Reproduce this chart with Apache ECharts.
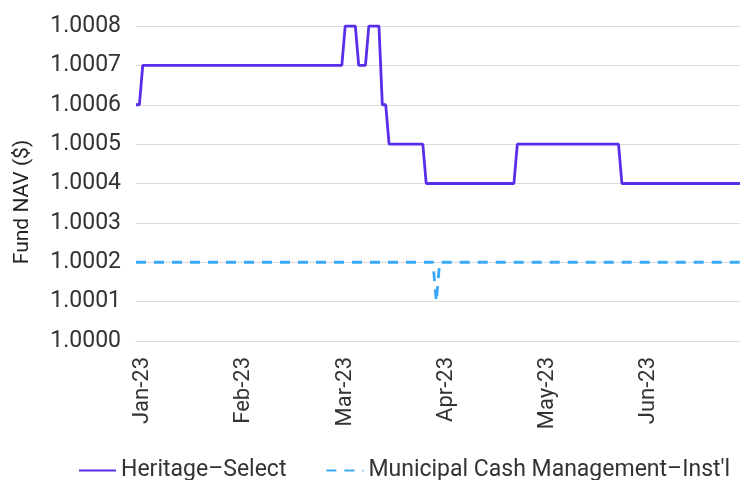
<!DOCTYPE html>
<html>
<head>
<meta charset="utf-8">
<script src="https://cdn.jsdelivr.net/npm/echarts@6/dist/echarts.min.js"></script>
<style>html,body{margin:0;padding:0;background:#fff}#c{width:740px;height:480px}</style>
</head>
<body>
<div id="c"></div>
<script>
// Categories: daily dates starting 30-Dec-2022
const startDate = new Date(Date.UTC(2022, 11, 30));
const categories = [];
for (let i = 0; i < 180; i++) {
  const d = new Date(startDate.getTime() + i * 86400000);
  categories.push(d.toISOString().slice(0, 10));
}
const tickLabels = ['Jan-23', 'Feb-23', 'Mar-23', 'Apr-23', 'May-23', 'Jun-23'];
const tickIndex = [2, 32, 62, 92, 122, 152];

const seriesNames = ['Heritage\u2013Select', 'Municipal Cash Management\u2013Inst\'l'];

const heritageSelect = [
  1.0006,1.0006,1.0007,1.0007,1.0007,1.0007,1.0007,1.0007,1.0007,1.0007,
  1.0007,1.0007,1.0007,1.0007,1.0007,1.0007,1.0007,1.0007,1.0007,1.0007,
  1.0007,1.0007,1.0007,1.0007,1.0007,1.0007,1.0007,1.0007,1.0007,1.0007,
  1.0007,1.0007,1.0007,1.0007,1.0007,1.0007,1.0007,1.0007,1.0007,1.0007,
  1.0007,1.0007,1.0007,1.0007,1.0007,1.0007,1.0007,1.0007,1.0007,1.0007,
  1.0007,1.0007,1.0007,1.0007,1.0007,1.0007,1.0007,1.0007,1.0007,1.0007,
  1.0007,1.0007,1.0008,1.0008,1.0008,1.0008,1.0007,1.0007,1.0007,1.0008,
  1.0008,1.0008,1.0008,1.0006,1.0006,1.0005,1.0005,1.0005,1.0005,1.0005,
  1.0005,1.0005,1.0005,1.0005,1.0005,1.0005,1.0004,1.0004,1.0004,1.0004,
  1.0004,1.0004,1.0004,1.0004,1.0004,1.0004,1.0004,1.0004,1.0004,1.0004,
  1.0004,1.0004,1.0004,1.0004,1.0004,1.0004,1.0004,1.0004,1.0004,1.0004,
  1.0004,1.0004,1.0004,1.0005,1.0005,1.0005,1.0005,1.0005,1.0005,1.0005,
  1.0005,1.0005,1.0005,1.0005,1.0005,1.0005,1.0005,1.0005,1.0005,1.0005,
  1.0005,1.0005,1.0005,1.0005,1.0005,1.0005,1.0005,1.0005,1.0005,1.0005,
  1.0005,1.0005,1.0005,1.0005,1.0004,1.0004,1.0004,1.0004,1.0004,1.0004,
  1.0004,1.0004,1.0004,1.0004,1.0004,1.0004,1.0004,1.0004,1.0004,1.0004,
  1.0004,1.0004,1.0004,1.0004,1.0004,1.0004,1.0004,1.0004,1.0004,1.0004,
  1.0004,1.0004,1.0004,1.0004,1.0004,1.0004,1.0004,1.0004,1.0004,1.0004
];

const municipalCash = [
  1.0002,1.0002,1.0002,1.0002,1.0002,1.0002,1.0002,1.0002,1.0002,1.0002,
  1.0002,1.0002,1.0002,1.0002,1.0002,1.0002,1.0002,1.0002,1.0002,1.0002,
  1.0002,1.0002,1.0002,1.0002,1.0002,1.0002,1.0002,1.0002,1.0002,1.0002,
  1.0002,1.0002,1.0002,1.0002,1.0002,1.0002,1.0002,1.0002,1.0002,1.0002,
  1.0002,1.0002,1.0002,1.0002,1.0002,1.0002,1.0002,1.0002,1.0002,1.0002,
  1.0002,1.0002,1.0002,1.0002,1.0002,1.0002,1.0002,1.0002,1.0002,1.0002,
  1.0002,1.0002,1.0002,1.0002,1.0002,1.0002,1.0002,1.0002,1.0002,1.0002,
  1.0002,1.0002,1.0002,1.0002,1.0002,1.0002,1.0002,1.0002,1.0002,1.0002,
  1.0002,1.0002,1.0002,1.0002,1.0002,1.0002,1.0002,1.0002,1.0002,1.0001,
  1.0002,1.0002,1.0002,1.0002,1.0002,1.0002,1.0002,1.0002,1.0002,1.0002,
  1.0002,1.0002,1.0002,1.0002,1.0002,1.0002,1.0002,1.0002,1.0002,1.0002,
  1.0002,1.0002,1.0002,1.0002,1.0002,1.0002,1.0002,1.0002,1.0002,1.0002,
  1.0002,1.0002,1.0002,1.0002,1.0002,1.0002,1.0002,1.0002,1.0002,1.0002,
  1.0002,1.0002,1.0002,1.0002,1.0002,1.0002,1.0002,1.0002,1.0002,1.0002,
  1.0002,1.0002,1.0002,1.0002,1.0002,1.0002,1.0002,1.0002,1.0002,1.0002,
  1.0002,1.0002,1.0002,1.0002,1.0002,1.0002,1.0002,1.0002,1.0002,1.0002,
  1.0002,1.0002,1.0002,1.0002,1.0002,1.0002,1.0002,1.0002,1.0002,1.0002,
  1.0002,1.0002,1.0002,1.0002,1.0002,1.0002,1.0002,1.0002,1.0002,1.0002
];

const yMin = 1.0000, yMax = 1.0008, yStep = 0.0001;
const purple = '#5a2ee8';
const blue = '#39a8f7';

const chart = echarts.init(document.getElementById('c'), null, {renderer: 'canvas'});
chart.setOption({
  animation: false,
  backgroundColor: '#ffffff',
  grid: {left: 136, right: 0, top: 26, bottom: 139, containLabel: false},
  legend: {
    top: 454,
    left: 73,
    width: 667,
    itemWidth: 37,
    itemHeight: 12,
    itemGap: 39,
    itemStyle: {opacity: 0},
    textStyle: {fontFamily: 'Roboto', fontSize: 23, color: '#333'},
    data: [seriesNames[0], seriesNames[1]]
  },
  xAxis: {
    type: 'category',
    data: categories,
    boundaryGap: false,
    axisLine: {show: true, lineStyle: {color: '#dcdcdc', width: 1}},
    axisTick: {show: false},
    splitLine: {show: false},
    axisLabel: {
      rotate: 90,
      margin: 16,
      fontFamily: 'Roboto',
      fontSize: 22,
      color: '#333',
      interval: function (idx) { return tickIndex.indexOf(idx) >= 0; },
      formatter: function (v, idx) {
        const k = tickIndex.indexOf(idx);
        return k >= 0 ? tickLabels[k] : '';
      }
    }
  },
  yAxis: {
    type: 'value',
    min: yMin,
    max: yMax,
    interval: yStep,
    name: 'Fund NAV ($)',
    nameLocation: 'middle',
    nameGap: 103,
    nameRotate: 90,
    nameTextStyle: {fontFamily: 'Roboto', fontSize: 21, color: '#222', padding: [0, 37, 0, 0]},
    axisLine: {show: false},
    axisTick: {show: false},
    splitLine: {show: true, lineStyle: {color: '#dcdcdc', width: 1}},
    axisLabel: {
      margin: 15,
      fontFamily: 'Roboto',
      fontSize: 23,
      color: '#333',
      formatter: function (v) { return v.toFixed(4); }
    }
  },
  series: [
    {
      name: seriesNames[0],
      type: 'line',
      data: heritageSelect,
      symbol: 'none',
      lineStyle: {color: purple, width: 2.8},
      itemStyle: {color: purple}
    },
    {
      name: seriesNames[1],
      type: 'line',
      data: municipalCash,
      symbol: 'none',
      lineStyle: {color: blue, width: 2.8, type: [10, 8]},
      itemStyle: {color: blue}
    }
  ]
});
</script>
</body>
</html>
